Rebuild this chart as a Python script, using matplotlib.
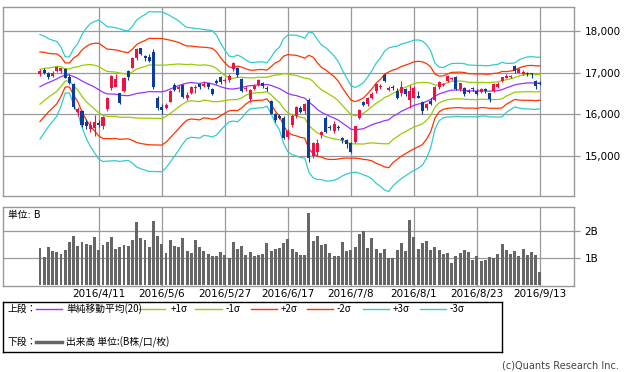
import numpy as np
import pandas as pd
import matplotlib
matplotlib.use("Agg")
import matplotlib.pyplot as plt

plt.rcParams["font.family"] = ["DejaVu Sans", "Noto Sans CJK JP"]
plt.rcParams["font.size"] = 7.5

W, H = 624, 372

# closes before the first candle (needed for the 20-day bands)
prior_close = [15915, 16002, 16140, 16188, 16026, 16085, 16746, 16960, 17014, 16911,
               16783, 16642, 16852, 16938, 17233, 17117, 16974, 16936, 16724]

open_ = [16960, 17060, 16990, 16930, 17040, 17050, 17090, 16900, 16720, 16060,
         16080, 15820, 15640, 15660, 15800, 15720, 16130, 16620, 16660, 16500,
         16560, 17040, 17120, 17350, 17580, 17400, 17370, 17500, 16400, 16180,
         16160, 16300, 16700, 16600, 16700, 16390, 16500, 16620, 16720, 16680,
         16740, 16600, 16800, 16900, 16800, 16820, 17080, 17100, 16850, 16600,
         16360, 16600, 16700, 16750, 16640, 16320, 16000, 15960, 15900, 15450,
         15750, 15950, 16150, 16080, 16350, 15000, 15100, 15500, 15900, 15700,
         15600, 15700, 15420, 15380, 15300, 15330, 15900, 16300, 16250, 16400,
         16550, 16660, 16950, 16590, 16660, 16560, 16500, 16600, 16350, 16400,
         16450, 16300, 16150, 16320, 16350, 16650, 16700, 16800, 16840, 16900,
         16600, 16620, 16570, 16620, 16560, 16530, 16600, 16500, 16550, 16650,
         16800, 16880, 16900, 17150, 17000, 16960, 16980, 16990, 16800, 16760]

high = [17080, 17100, 17020, 17030, 17160, 17120, 17110, 16960, 16740, 16180,
        16100, 15880, 15830, 15990, 15860, 15960, 16420, 16950, 16960, 16520,
        16900, 17060, 17380, 17600, 17590, 17430, 17440, 17560, 16440, 16240,
        16260, 16590, 16760, 16700, 16720, 16540, 16680, 16700, 16740, 16800,
        16760, 16620, 16840, 16920, 16860, 16960, 17250, 17130, 16880, 16680,
        16600, 16720, 16850, 16780, 16680, 16340, 16030, 16000, 15950, 15650,
        16000, 16200, 16200, 16280, 16390, 15340, 15400, 15600, 15950, 15750,
        15850, 15740, 15460, 15400, 15330, 15720, 16120, 16330, 16420, 16530,
        16740, 16720, 16990, 16680, 16700, 16620, 16800, 16640, 16700, 16680,
        16560, 16320, 16280, 16380, 16670, 16790, 16760, 16940, 16900, 16920,
        16760, 16660, 16610, 16660, 16600, 16620, 16640, 16520, 16760, 16780,
        16900, 16960, 16940, 17190, 17100, 17060, 17010, 17000, 16830, 16800]

low = [16930, 16960, 16850, 16900, 17010, 16990, 16860, 16720, 16120, 15950,
       15700, 15650, 15580, 15470, 15700, 15650, 16080, 16580, 16700, 16250,
       16540, 16820, 17100, 17300, 17420, 17290, 17260, 16600, 16100, 16000,
       16120, 16290, 16560, 16540, 16380, 16350, 16480, 16500, 16600, 16650,
       16600, 16470, 16720, 16730, 16760, 16780, 17050, 16900, 16530, 16560,
       16300, 16580, 16680, 16640, 16560, 16000, 15820, 15880, 15400, 15400,
       15700, 15900, 16040, 16000, 14860, 14950, 14990, 15420, 15540, 15630,
       15550, 15620, 15300, 15200, 15060, 15300, 15880, 16200, 16200, 16370,
       16520, 16610, 16780, 16560, 16580, 16360, 16450, 16440, 16150, 16380,
       16380, 16000, 16100, 16220, 16330, 16610, 16670, 16780, 16820, 16580,
       16550, 16450, 16500, 16560, 16470, 16500, 16520, 16300, 16530, 16620,
       16780, 16860, 16870, 16990, 16980, 16940, 16920, 16860, 16600, 16700]

close = [17048, 17000, 16892, 17002, 17134, 17103, 16878, 16758, 16164, 16123,
         15732, 15715, 15749, 15821, 15751, 15928, 16381, 16911, 16848, 16275,
         16874, 16906, 17363, 17572, 17439, 17353, 17290, 16666, 16147, 16106,
         16216, 16565, 16579, 16646, 16412, 16466, 16652, 16644, 16646, 16736,
         16654, 16498, 16757, 16772, 16834, 16931, 17234, 16955, 16562, 16642,
         16580, 16675, 16830, 16668, 16601, 16019, 15859, 15919, 15434, 15599,
         15965, 16169, 16065, 16238, 14952, 15309, 15323, 15566, 15575, 15682,
         15775, 15669, 15378, 15276, 15106, 15708, 16095, 16231, 16385, 16497,
         16723, 16681, 16810, 16627, 16620, 16383, 16664, 16476, 16569, 16635,
         16391, 16083, 16254, 16254, 16650, 16764, 16735, 16919, 16869, 16596,
         16745, 16486, 16545, 16598, 16497, 16597, 16555, 16360, 16737, 16725,
         16887, 16926, 16925, 17037, 17081, 17012, 16958, 16965, 16672, 16729]

# volume in billions of shares
volume = [1.36, 1.02, 1.40, 1.26, 1.22, 1.15, 1.30, 1.59, 1.81, 1.44,
          1.59, 1.52, 1.49, 1.78, 1.30, 1.48, 1.59, 1.78, 1.33, 1.41,
          1.47, 1.44, 1.67, 2.33, 1.74, 1.67, 1.41, 2.37, 1.81, 1.52,
          1.19, 1.67, 1.44, 1.41, 1.74, 1.26, 1.19, 1.67, 1.41, 1.26,
          1.15, 1.07, 1.07, 1.22, 1.11, 1.00, 1.59, 1.33, 1.44, 1.11,
          1.22, 1.09, 1.11, 1.15, 1.56, 1.26, 1.33, 1.37, 1.56, 1.70,
          1.33, 1.22, 1.11, 1.11, 2.67, 1.63, 1.81, 1.48, 1.52, 1.19,
          1.07, 1.07, 1.59, 1.26, 1.30, 1.41, 1.89, 2.00, 1.37, 1.74,
          1.33, 1.19, 1.33, 1.00, 1.00, 1.30, 1.56, 1.26, 2.41, 1.78,
          1.33, 1.56, 1.63, 1.30, 1.41, 1.30, 1.15, 1.19, 0.81, 1.07,
          1.19, 1.30, 1.22, 0.93, 1.07, 0.89, 0.93, 1.04, 1.00, 1.15,
          1.52, 1.30, 1.15, 1.26, 1.07, 1.33, 1.11, 1.22, 1.11, 0.48]

tick_days = [14, 29, 44, 59, 74, 89, 104, 119]
tick_labels = ["2016/4/11", "2016/5/6", "2016/5/27", "2016/6/17",
               "2016/7/8", "2016/8/1", "2016/8/23", "2016/9/13"]
price_ticks = [15000, 16000, 17000, 18000]
vol_ticks = [1, 2]
vol_tick_labels = ["1B", "2B"]

up_col = "#ee1144"
dn_col = "#0c3c9c"
sma_col = "#9933ff"
s1_col = "#99cc00"
s2_col = "#ff3300"
s3_col = "#33cccc"
grid_col = "#999999"
vol_col = "#666666"

# bollinger bands (20 days)
all_close = pd.Series(prior_close + close, dtype=float)
n0 = len(prior_close)
sma = all_close.rolling(20).mean().to_numpy()[n0:]
sd = all_close.rolling(20).std(ddof=0).to_numpy()[n0:]


def box(l, t, r, b):
    return [l / W, 1 - b / H, (r - l) / W, (b - t) / H]


def style(a):
    for s in a.spines.values():
        s.set_color(grid_col)
        s.set_linewidth(1.0)
    a.grid(True, color=grid_col, lw=0.9)
    a.set_axisbelow(True)
    a.set_xlim(-8.8, 127.1)
    a.set_xticks(tick_days)
    a.yaxis.tick_right()
    a.tick_params(axis="y", length=4.5, width=0.9, color=grid_col, pad=3, labelsize=7.5)


fig = plt.figure(figsize=(W / 100, H / 100), dpi=100)

ax = fig.add_axes(box(3, 7, 574, 196))
style(ax)
ax.set_ylim(14040, 18576)
ax.set_yticks(price_ticks)
ax.set_yticklabels([f"{v:,}" for v in price_ticks])
ax.tick_params(axis="x", length=0, labelbottom=False)

x = np.arange(len(close))
o = np.array(open_, dtype=float)
c = np.array(close, dtype=float)
cols = [up_col if cc >= oo else dn_col for oo, cc in zip(o, c)]

for k, col in [(3, s3_col), (2, s2_col), (1, s1_col)]:
    ax.plot(x, sma + k * sd, color=col, lw=0.9, zorder=2)
    ax.plot(x, sma - k * sd, color=col, lw=0.9, zorder=2)
ax.plot(x, sma, color=sma_col, lw=0.9, zorder=2)

ax.vlines(x, low, high, colors=cols, lw=0.8, zorder=3)
body = np.maximum(np.abs(c - o), 18)
ax.bar(x, body, bottom=np.minimum(o, c), width=0.72, color=cols, lw=0, zorder=4)

# volume panel
axv = fig.add_axes(box(3, 207, 574, 286))
style(axv)
axv.set_ylim(-0.04, 2.89)
axv.set_yticks(vol_ticks)
axv.set_yticklabels(vol_tick_labels)
axv.set_xticklabels(tick_labels)
axv.tick_params(axis="x", length=0, pad=2.5, labelsize=7.5)
axv.bar(x, volume, width=0.7, color=vol_col, lw=0, zorder=3)
fig.text(8 / W, 1 - 215 / H, "単位: B", fontsize=7, va="center", ha="left")

# legend box
axl = fig.add_axes(box(3, 302, 502, 352))
axl.set_xlim(3, 502)
axl.set_ylim(352, 302)
axl.set_xticks([])
axl.set_yticks([])
for s in axl.spines.values():
    s.set_color("black")
    s.set_linewidth(1.0)

jp = dict(fontsize=7, va="center", ha="left", family=["Noto Sans CJK JP", "DejaVu Sans"])
r1, r2 = 309, 342
axl.text(8, r1, "上段：", **jp)
legend_items = [
    (36, 62, sma_col, 66, "単純移動平均(20)"),
    (139, 165, s1_col, 171, "+1σ"),
    (195, 222, s1_col, 226, "-1σ"),
    (251, 277, s2_col, 281, "+2σ"),
    (307, 333, s2_col, 337, "-2σ"),
    (363, 389, s3_col, 393, "+3σ"),
    (420, 446, s3_col, 450, "-3σ"),
]
for x0, x1, col, tx, lab in legend_items:
    axl.plot([x0, x1], [r1, r1], color=col, lw=1.0)
    axl.text(tx, r1, lab, **jp)
axl.text(8, r2, "下段：", **jp)
axl.plot([36, 62], [r2, r2], color=vol_col, lw=2.5)
axl.text(66, r2, "出来高 単位:(B株/口/枚)", **jp)

fig.text(619 / W, 1 - 365 / H, "(c)Quants Research Inc.", fontsize=7,
         ha="right", va="center", color="#444444")

fig.savefig("out.png", dpi=100)
